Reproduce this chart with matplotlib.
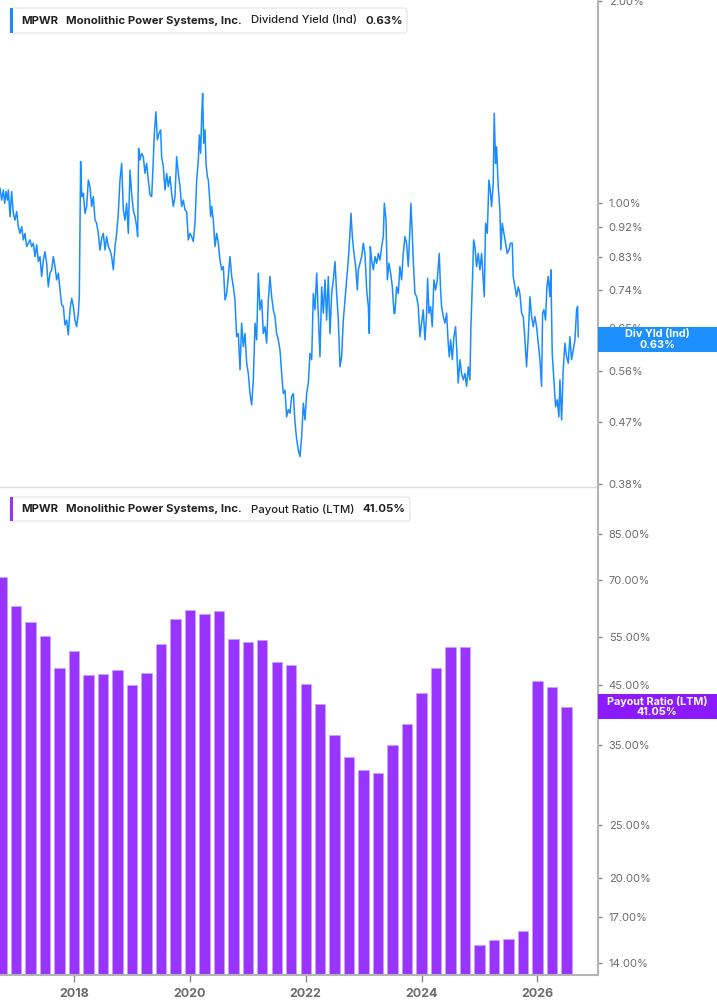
import matplotlib.pyplot as plt
import numpy as np
from matplotlib.patches import Rectangle, FancyBboxPatch
from matplotlib.ticker import NullLocator

plt.rcParams["font.family"] = ["Inter", "DejaVu Sans"]

# dividend yield (%) (decimal years)
yield_years = [
    2016.723, 2016.752, 2016.781, 2016.804, 2016.827, 2016.850, 2016.867, 2016.896, 2016.924, 2016.953,
    2016.982, 2017.011, 2017.039, 2017.068, 2017.097, 2017.126, 2017.154, 2017.183, 2017.212, 2017.241,
    2017.269, 2017.298, 2017.327, 2017.356, 2017.385, 2017.413, 2017.442, 2017.471, 2017.500, 2017.528,
    2017.557, 2017.586, 2017.615, 2017.643, 2017.672, 2017.701, 2017.730, 2017.759, 2017.787, 2017.816,
    2017.845, 2017.874, 2017.902, 2017.931, 2017.960, 2017.989, 2018.017, 2018.046, 2018.075, 2018.092,
    2018.115, 2018.133, 2018.161, 2018.190, 2018.219, 2018.248, 2018.276, 2018.305, 2018.334, 2018.363,
    2018.391, 2018.420, 2018.449, 2018.478, 2018.507, 2018.535, 2018.564, 2018.593, 2018.622, 2018.650,
    2018.679, 2018.708, 2018.737, 2018.765, 2018.794, 2018.823, 2018.852, 2018.880, 2018.909, 2018.938,
    2018.967, 2018.995, 2019.024, 2019.053, 2019.082, 2019.099, 2019.116, 2019.139, 2019.168, 2019.197,
    2019.226, 2019.254, 2019.283, 2019.312, 2019.341, 2019.370, 2019.387, 2019.415, 2019.439, 2019.467,
    2019.496, 2019.513, 2019.542, 2019.571, 2019.600, 2019.628, 2019.657, 2019.686, 2019.715, 2019.743,
    2019.772, 2019.801, 2019.830, 2019.858, 2019.887, 2019.916, 2019.945, 2019.973, 2020.002, 2020.031,
    2020.060, 2020.089, 2020.118, 2020.147, 2020.164, 2020.187, 2020.204, 2020.221, 2020.239, 2020.262,
    2020.279, 2020.302, 2020.319, 2020.336, 2020.359, 2020.377, 2020.405, 2020.434, 2020.463, 2020.492,
    2020.520, 2020.549, 2020.578, 2020.607, 2020.636, 2020.664, 2020.693, 2020.722, 2020.751, 2020.779,
    2020.808, 2020.837, 2020.866, 2020.894, 2020.923, 2020.952, 2020.981, 2021.009, 2021.038, 2021.067,
    2021.096, 2021.125, 2021.153, 2021.182, 2021.211, 2021.240, 2021.268, 2021.297, 2021.326, 2021.355,
    2021.383, 2021.412, 2021.441, 2021.470, 2021.498, 2021.527, 2021.556, 2021.585, 2021.613, 2021.642,
    2021.671, 2021.700, 2021.729, 2021.757, 2021.786, 2021.815, 2021.844, 2021.872, 2021.901, 2021.930,
    2021.959, 2021.988, 2022.016, 2022.045, 2022.074, 2022.103, 2022.131, 2022.160, 2022.189, 2022.218,
    2022.246, 2022.275, 2022.304, 2022.333, 2022.361, 2022.390, 2022.419, 2022.448, 2022.477, 2022.505,
    2022.534, 2022.563, 2022.592, 2022.620, 2022.649, 2022.678, 2022.707, 2022.735, 2022.764, 2022.781,
    2022.805, 2022.833, 2022.862, 2022.891, 2022.908, 2022.937, 2022.966, 2022.994, 2023.023, 2023.052,
    2023.081, 2023.098, 2023.115, 2023.138, 2023.167, 2023.196, 2023.224, 2023.253, 2023.282, 2023.311,
    2023.339, 2023.357, 2023.386, 2023.409, 2023.437, 2023.466, 2023.495, 2023.524, 2023.540, 2023.569,
    2023.598, 2023.626, 2023.655, 2023.684, 2023.713, 2023.741, 2023.770, 2023.799, 2023.816, 2023.839,
    2023.856, 2023.885, 2023.914, 2023.943, 2023.971, 2024.000, 2024.029, 2024.058, 2024.087, 2024.104,
    2024.127, 2024.156, 2024.184, 2024.213, 2024.242, 2024.271, 2024.288, 2024.305, 2024.328, 2024.345,
    2024.374, 2024.403, 2024.432, 2024.460, 2024.478, 2024.501, 2024.530, 2024.558, 2024.587, 2024.604,
    2024.633, 2024.662, 2024.691, 2024.719, 2024.748, 2024.777, 2024.806, 2024.834, 2024.852, 2024.880,
    2024.898, 2024.921, 2024.950, 2024.978, 2025.007, 2025.036, 2025.065, 2025.082, 2025.105, 2025.134,
    2025.162, 2025.185, 2025.208, 2025.237, 2025.254, 2025.277, 2025.295, 2025.323, 2025.352, 2025.369,
    2025.392, 2025.421, 2025.450, 2025.479, 2025.508, 2025.536, 2025.565, 2025.582, 2025.611, 2025.640,
    2025.669, 2025.697, 2025.726, 2025.755, 2025.784, 2025.812, 2025.841, 2025.870, 2025.899, 2025.927,
    2025.956, 2025.985, 2026.014, 2026.043, 2026.071, 2026.089, 2026.112, 2026.140, 2026.163, 2026.186,
    2026.215, 2026.232, 2026.255, 2026.284, 2026.313, 2026.342, 2026.370, 2026.388, 2026.417, 2026.445,
    2026.474, 2026.503, 2026.532, 2026.560, 2026.589, 2026.618, 2026.647, 2026.676, 2026.693, 2026.704,
]
yield_pct = [
    1.051, 1.009, 1.045, 0.998, 1.039, 1.009, 1.045, 0.953, 1.039, 0.964,
    0.942, 0.970, 0.921, 0.900, 0.921, 0.880, 0.900, 0.860, 0.870, 0.880,
    0.860, 0.870, 0.831, 0.865, 0.817, 0.831, 0.776, 0.821, 0.845, 0.812,
    0.749, 0.785, 0.794, 0.831, 0.803, 0.767, 0.785, 0.741, 0.704, 0.700,
    0.657, 0.668, 0.635, 0.692, 0.720, 0.700, 0.668, 0.653, 0.684, 0.724,
    1.152, 1.021, 1.033, 0.964, 0.987, 1.081, 1.057, 0.987, 1.021, 0.942,
    0.932, 0.900, 0.850, 0.885, 0.900, 0.850, 0.890, 0.860, 0.850, 0.831,
    0.794, 0.860, 0.900, 0.964, 1.081, 1.145, 0.975, 0.942, 0.998, 0.900,
    1.119, 1.033, 0.975, 0.953, 0.921, 0.890, 1.205, 1.158, 1.185, 1.171,
    1.106, 1.145, 1.081, 1.027, 1.021, 1.158, 1.269, 1.367, 1.241, 1.269,
    1.284, 1.171, 1.132, 1.045, 1.106, 1.057, 1.094, 1.033, 0.987, 1.021,
    1.171, 1.106, 1.057, 0.987, 1.009, 0.975, 0.970, 0.880, 0.900, 0.890,
    0.875, 0.932, 1.081, 1.158, 1.262, 1.185, 1.344, 1.456, 1.226, 1.284,
    1.145, 1.094, 1.081, 1.033, 0.953, 0.987, 0.942, 0.860, 0.900, 0.870,
    0.821, 0.794, 0.803, 0.716, 0.732, 0.776, 0.831, 0.776, 0.749, 0.716,
    0.631, 0.638, 0.563, 0.661, 0.610, 0.638, 0.576, 0.556, 0.519, 0.499,
    0.544, 0.661, 0.624, 0.785, 0.692, 0.716, 0.638, 0.653, 0.617, 0.716,
    0.776, 0.724, 0.692, 0.676, 0.638, 0.624, 0.603, 0.556, 0.519, 0.525,
    0.479, 0.491, 0.485, 0.514, 0.519, 0.469, 0.443, 0.428, 0.418, 0.448,
    0.502, 0.474, 0.519, 0.538, 0.596, 0.583, 0.732, 0.692, 0.785, 0.676,
    0.589, 0.749, 0.684, 0.767, 0.668, 0.776, 0.638, 0.732, 0.767, 0.817,
    0.732, 0.668, 0.569, 0.589, 0.668, 0.716, 0.767, 0.821, 0.900, 0.964,
    0.890, 0.840, 0.803, 0.741, 0.794, 0.812, 0.831, 0.870, 0.840, 0.741,
    0.700, 0.638, 0.860, 0.821, 0.794, 0.831, 0.812, 0.840, 0.821, 0.860,
    0.890, 0.998, 0.942, 0.767, 0.812, 0.785, 0.749, 0.684, 0.684, 0.749,
    0.732, 0.803, 0.767, 0.840, 0.890, 0.870, 0.803, 0.911, 0.998, 0.900,
    0.821, 0.732, 0.724, 0.700, 0.631, 0.661, 0.692, 0.624, 0.684, 0.771,
    0.684, 0.700, 0.653, 0.767, 0.741, 0.767, 0.803, 0.840, 0.741, 0.700,
    0.676, 0.661, 0.684, 0.617, 0.589, 0.624, 0.583, 0.631, 0.653, 0.610,
    0.538, 0.583, 0.556, 0.544, 0.556, 0.532, 0.569, 0.544, 0.653, 0.776,
    0.880, 0.860, 0.803, 0.840, 0.794, 0.840, 0.767, 0.724, 0.932, 0.900,
    1.081, 1.045, 0.987, 1.069, 1.360, 1.145, 1.212, 1.057, 0.975, 0.850,
    0.932, 0.900, 0.870, 0.840, 0.850, 0.870, 0.870, 0.776, 0.749, 0.724,
    0.749, 0.732, 0.684, 0.676, 0.624, 0.569, 0.631, 0.724, 0.676, 0.653,
    0.676, 0.653, 0.617, 0.583, 0.532, 0.684, 0.692, 0.668, 0.749, 0.776,
    0.724, 0.794, 0.596, 0.544, 0.496, 0.508, 0.479, 0.544, 0.474, 0.563,
    0.617, 0.589, 0.576, 0.631, 0.583, 0.603, 0.624, 0.692, 0.700, 0.631,
]
yield_last = 0.625  # level shown in the right-hand tag

# payout ratio (LTM, %), quarterly bars
payout_quarters = np.arange(2016.75, 2026.51, 0.25)
payout_pct = [
    70.9, 62.7, 58.7, 55.3, 48.3, 51.9, 46.9, 47.1, 47.9, 45.0,
    47.3, 53.5, 59.4, 61.7, 60.7, 61.4, 54.6, 53.9, 54.4, 49.6,
    49.0, 45.2, 41.6, 36.5, 33.3, 31.5, 31.1, 35.0, 38.2, 43.5,
    48.3, 52.8, 52.8, 15.1, 15.4, 15.5, 16.0, 45.8, 44.6, 41.05,
]

yield_ticks = [0.38, 0.47, 0.56, 0.65, 0.74, 0.83, 0.92, 1.00, 2.00]
payout_ticks = [14, 17, 20, 25, 35, 45, 55, 70, 85]
year_ticks = [2018, 2020, 2022, 2024, 2026]

BLUE = "#1a8cff"
PURPLE = "#9933ff"
PURPLE_TAG = "#8c1aff"
GRAY_TXT = "#6b6b6b"
SPINE = "#b4b4b4"

W, H = 717, 1005
fig = plt.figure(figsize=(W / 100, H / 100), dpi=100)

right = 597.7 / W
ax1 = fig.add_axes([0, 1 - 487 / H, right, 487 / H])
ax2 = fig.add_axes([0, 1 - 975 / H, right, 488 / H])

xlim = (2016.723, 2027.04)

# --- top: dividend yield line
ax1.plot(yield_years, yield_pct, color=BLUE, lw=1.1)
ax1.set_yscale("log")
ax1.set_ylim(0.3764, 2.007)
ax1.set_xlim(*xlim)

# --- bottom: payout ratio bars
ax2.bar(payout_quarters, np.array(payout_pct) - 1, bottom=1, width=0.18,
        color=PURPLE, edgecolor="#c7a3ff", linewidth=0.6)
ax2.set_yscale("log")
ax2.set_ylim(13.31, 103.4)
ax2.set_xlim(*xlim)

for ax, ticks in ((ax1, yield_ticks), (ax2, payout_ticks)):
    ax.yaxis.tick_right()
    ax.yaxis.set_minor_locator(NullLocator())
    ax.set_yticks(ticks)
    ax.set_yticklabels([f"{t:.2f}%" for t in ticks])
    ax.tick_params(axis="y", direction="out", length=3, width=1, color="#888888",
                   labelsize=8, labelcolor=GRAY_TXT, pad=5)
    for s in ("left", "top"):
        ax.spines[s].set_visible(False)
    ax.spines["right"].set_color(SPINE)
    ax.spines["right"].set_linewidth(1.5)
    ax.set_facecolor("none")

ax1.set_xticks([])
ax1.spines["bottom"].set_color("#dddddd")
ax1.spines["bottom"].set_linewidth(1.0)

ax2.set_xticks(year_ticks)
ax2.set_xticklabels([str(y) for y in year_ticks])
ax2.xaxis.set_minor_locator(NullLocator())
ax2.tick_params(axis="x", direction="out", length=5, width=1, color="#888888",
                labelsize=9, labelcolor=GRAY_TXT, pad=4)
for lab in ax2.get_xticklabels():
    lab.set_fontweight("bold")
ax2.spines["bottom"].set_color(SPINE)
ax2.spines["bottom"].set_linewidth(1.5)


def legend_box(y_top, y_bot, x_right, stripe, parts):
    box = FancyBboxPatch((10 / 100, (H - y_bot) / 100), (x_right - 10) / 100, (y_bot - y_top) / 100,
                         boxstyle="round,pad=0,rounding_size=0.03", fc="white", ec="#e4e4e4",
                         lw=0.8, transform=fig.dpi_scale_trans, zorder=5)
    fig.patches.append(box)
    bar = Rectangle((10 / 100, (H - y_bot) / 100), 3 / 100, (y_bot - y_top) / 100,
                    fc=stripe, ec="none", transform=fig.dpi_scale_trans, zorder=6)
    fig.patches.append(bar)
    renderer = fig.canvas.get_renderer()
    x = 21
    yc = (y_top + y_bot) / 2
    for txt, weight in parts:
        t = fig.text(x / W, 1 - yc / H, txt, fontsize=8.2, fontweight=weight,
                     color="#222222", ha="left", va="center", zorder=7)
        bb = t.get_window_extent(renderer)
        x += bb.width + 8.5


legend_box(8, 33, 407, BLUE, [("MPWR", "bold"), ("Monolithic Power Systems, Inc.", "bold"),
                              ("Dividend Yield (Ind)", "medium"), ("0.63%", "bold")])
legend_box(497, 521, 410, PURPLE, [("MPWR", "bold"), ("Monolithic Power Systems, Inc.", "bold"),
                                   ("Payout Ratio (LTM)", "medium"), ("41.05%", "bold")])


def value_tag(ax, value, color, lines):
    yd = ax.transData.transform((xlim[0], value))[1]
    h = 25
    tag = Rectangle((right, (yd - h / 2) / H), 1 - right, h / H, fc=color, ec="none",
                    transform=fig.transFigure, zorder=8)
    fig.patches.append(tag)
    fig.text((right + 1) / 2, (yd + 5.5) / H, lines[0], fontsize=7.8, fontweight="bold",
             color="white", ha="center", va="center", zorder=9)
    fig.text((right + 1) / 2, (yd - 5.5) / H, lines[1], fontsize=7.8, fontweight="bold",
             color="white", ha="center", va="center", zorder=9)


value_tag(ax1, yield_last, "#1e8fff", ["Div Yld (Ind)", "0.63%"])
value_tag(ax2, payout_pct[-1], PURPLE_TAG, ["Payout Ratio (LTM)", "41.05%"])

fig.savefig("out.png", dpi=100)
